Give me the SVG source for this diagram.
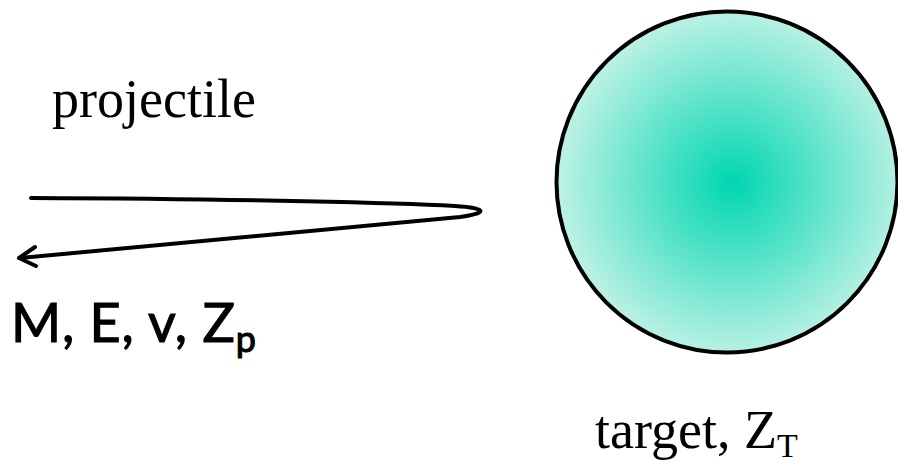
<svg xmlns="http://www.w3.org/2000/svg" width="898" height="466" viewBox="0 0 898 466">
<style>
.serif{font-family:"Liberation Serif","Times New Roman",serif;fill:#000}
.comic{font-family:"Lato","DejaVu Sans",sans-serif;fill:#000;stroke:#000;stroke-width:1.1;letter-spacing:0.8px}
.conn{fill:none;stroke:#000;stroke-width:4;stroke-linecap:round;stroke-linejoin:round}
</style>
<defs>
<radialGradient id="g" cx="733" cy="183" r="172" gradientUnits="userSpaceOnUse">
<stop offset="0" stop-color="#00d6b0"/>
<stop offset="1" stop-color="#baf1e4"/>
</radialGradient>
</defs>
<rect width="898" height="466" fill="#fff"/>
<g id="target">
<circle cx="727" cy="182" r="170.5" fill="url(#g)" stroke="#000" stroke-width="4"/>
<text class="serif" x="595" y="448" font-size="54">target, Z<tspan font-size="34" dy="9">T</tspan></text>
</g>
<g id="projectile">
<text class="serif" x="52" y="117" font-size="54">projectile</text>
<text class="comic" x="11" y="342" font-size="54">M, E, v, Z<tspan font-size="36" dy="10">p</tspan></text>
</g>
<g id="connectors">
<path class="conn" d="M31,198 C250,199 400,203 455,206 C488,208 488,213 460,217 L20,258"/>
<path class="conn" d="M35,247 L19,258 L36,266"/>
</g>
</svg>
